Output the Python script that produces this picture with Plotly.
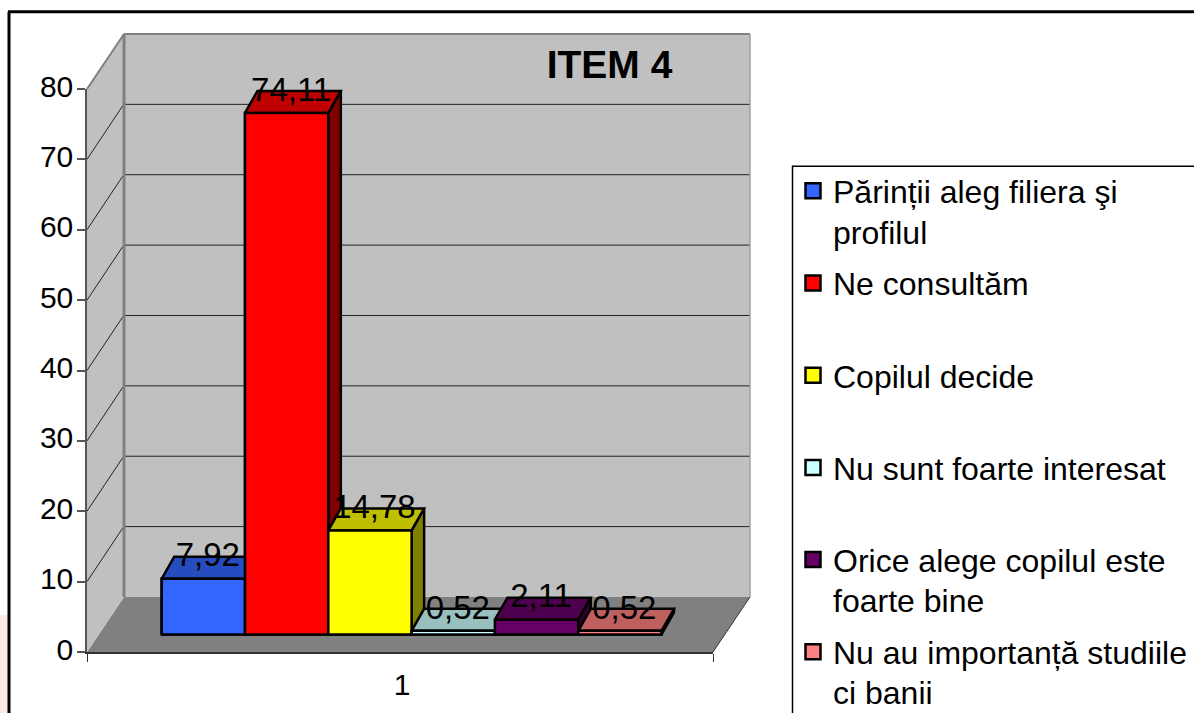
import plotly.graph_objects as go

# ---- data ----
categories = ["1"]
series_names = [
    "Părinții aleg filiera şi",
    "Ne consultăm",
    "Copilul decide",
    "Nu sunt foarte interesat",
    "Orice alege copilul este",
    "Nu au importanță studiile",
]
legend_second_lines = ["profilul", "", "", "", "foarte bine", "ci banii"]
series_values = [7.92, 74.11, 14.78, 0.52, 2.11, 0.52]
y_ticks = [0, 10, 20, 30, 40, 50, 60, 70, 80]

# ---- style ----
front_colors = ["#3366ff", "#ff0000", "#ffff00", "#ccffff", "#660066", "#ff8080"]
top_colors = ["#264dbf", "#bf0000", "#bfbf00", "#99bfbf", "#4d004d", "#bf6060"]
side_colors = ["#1a3380", "#800000", "#808000", "#668080", "#330033", "#804040"]
FONT = "Liberation Sans"
W, H = 1194, 713
L, R, T, B = 87, 713, 89.3, 652          # front plot rectangle in pixels
PXU_Y = (B - T) / 80
PXU_X = R - L                            # one category wide
DX, DY = 37, 55                          # wall depth
BAR_W = 83.3 / PXU_X
BAR_DX, BAR_DY = 12.5 / PXU_X, 22 / PXU_Y
BASE = 17.5 / PXU_Y
FIRST_LEFT = 0.5 + (161.7 - L) / PXU_X
EDGE = 2.5
LEGEND_STEP = 92


def px(x):
    return (x - L) / (R - L)


def py(y):
    return (B - y) / (B - T)


def poly(points, fill, line=None, width=0, layer="below"):
    path = "M" + "L".join(f"{px(a):.5f},{py(b):.5f}" for a, b in points) + "Z"
    return dict(type="path", xref="paper", yref="paper", path=path, fillcolor=fill,
                line=dict(color=line or fill, width=width), layer=layer)


def seg(x0, y0, x1, y1, color, width, layer="below"):
    return dict(type="line", xref="paper", yref="paper", x0=px(x0), y0=py(y0), x1=px(x1), y1=py(y1),
                line=dict(color=color, width=width), layer=layer)


shapes = [
    dict(type="rect", xref="paper", yref="paper", x0=px(0), x1=px(8), y0=py(713), y1=py(615),
         fillcolor="#fde9e9", line=dict(width=0), layer="below"),
    seg(9, 12, 9, 713, "#000000", 3),
    seg(8, 12, 1194, 12, "#000000", 3),
    seg(792.5, 166, 792.5, 713, "#000000", 1.5),
    seg(792, 166.5, 1194, 166.5, "#000000", 1.5),
    poly([(L, B), (R, B), (R + DX, B - DY), (L + DX, B - DY)], "#808080"),
    poly([(L, B), (L, T), (L + DX, T - DY), (L + DX, B - DY)], "#c0c0c0"),
    poly([(L + DX, B - DY), (L + DX, T - DY), (R + DX, T - DY), (R + DX, B - DY)], "#c0c0c0"),
]
for v in y_ticks[1:-1]:
    yy = B - v * PXU_Y
    shapes.append(seg(L, yy, L + DX - 1, yy - DY + 1, "#222222", 1))
    shapes.append(seg(L + DX, yy - DY, R + DX, yy - DY, "#222222", 1))
shapes += [
    seg(L, T, L + DX, T - DY, "#808080", 2),
    seg(L + DX, T - DY, R + DX, T - DY, "#808080", 2),
    seg(L + DX, T - DY, L + DX, B - DY, "#808080", 3),
    seg(R + DX, T - DY, R + DX, B - DY, "#a0a0a0", 1.5),
    seg(R, B, R + DX, B - DY, "#333333", 1),
]

fig = go.Figure()
lefts = [FIRST_LEFT + i * BAR_W for i in range(len(series_values))]

for name, val, left, col in zip(series_names, series_values, lefts, front_colors):
    fig.add_trace(go.Bar(
        x=[left + BAR_W / 2], y=[val], base=[BASE], width=[BAR_W], name=name, showlegend=False,
        marker=dict(color=col, line=dict(color="#000000", width=EDGE)), hoverinfo="skip",
    ))

# legend keys
for name, col in zip(series_names, front_colors):
    fig.add_trace(go.Scatter(
        x=[None], y=[None], mode="markers", name=name, legendgroup=name,
        marker=dict(symbol="square", size=15, color=col, line=dict(color="#000000", width=2.5)),
    ))


def face(xs, ys, color):
    fig.add_trace(go.Scatter(
        x=xs + xs[:1], y=ys + ys[:1], mode="lines", fill="toself", fillcolor=color,
        line=dict(color="#000000", width=EDGE), showlegend=False, hoverinfo="skip", cliponaxis=False,
    ))


for val, left, fc, tc, sc in zip(series_values, lefts, front_colors, top_colors, side_colors):
    x0, x1 = left, left + BAR_W
    y0, y1 = BASE, BASE + val
    face([x1, x1 + BAR_DX, x1 + BAR_DX, x1], [y0, y0 + BAR_DY, y1 + BAR_DY, y1], sc)
    face([x0, x1, x1 + BAR_DX, x0 + BAR_DX], [y1, y1, y1 + BAR_DY, y1 + BAR_DY], tc)
    face([x0, x1, x1, x0], [y0, y0, y1, y1], fc)

fig.add_trace(go.Scatter(
    x=[left + BAR_W / 2 + 4.5 / PXU_X for left in lefts],
    y=[BASE + val + 20.5 / PXU_Y for val in series_values],
    text=[f"{val:.2f}".replace(".", ",") for val in series_values],
    mode="text", textposition="middle center", textfont=dict(family=FONT, size=33, color="#000000"),
    showlegend=False, hoverinfo="skip", cliponaxis=False,
))

annotations = [
    dict(text=t, xref="paper", yref="paper", x=px(831), y=py(193 + i * LEGEND_STEP + 40), xanchor="left",
         yanchor="middle", showarrow=False, font=dict(family=FONT, size=32, color="#000000"))
    for i, t in enumerate(legend_second_lines) if t
]

fig.update_layout(
    width=W, height=H, autosize=False,
    margin=dict(l=L, r=W - R, t=T, b=H - B, pad=0, autoexpand=False),
    paper_bgcolor="#ffffff", plot_bgcolor="rgba(0,0,0,0)",
    barmode="overlay", shapes=shapes, annotations=annotations,
    font=dict(family=FONT, size=30, color="#000000"),
    title=dict(text="<b>ITEM 4</b>", x=609.5 / W, xref="container", xanchor="center",
               y=1 - 64 / H, yref="container", yanchor="middle",
               font=dict(family=FONT, size=39, color="#000000")),
    xaxis=dict(range=[0.5, 1.5], tickmode="array", tickvals=[1], ticktext=categories, ticks="",
               showgrid=False, zeroline=False, showline=True, linecolor="#333333", linewidth=1.5,
               ticklabelstandoff=5, ticklabelshift=2,
               minor=dict(tickmode="array", tickvals=[0.5, 1.5], ticks="outside", ticklen=8,
                          tickcolor="#333333", tickwidth=1, showgrid=False),
               tickfont=dict(family=FONT, size=30)),
    yaxis=dict(range=[0, 80], tickmode="array", tickvals=y_ticks, ticks="outside", ticklen=8,
               tickcolor="#555555", tickwidth=1.5, showgrid=False, zeroline=False, showline=True,
               linecolor="#555555", linewidth=1.5, ticklabelshift=-3, ticklabelstandoff=-2,
               tickfont=dict(family=FONT, size=30)),
    legend=dict(xref="container", yref="container", x=793 / W, y=1 - 163.5 / H, xanchor="left", yanchor="top",
                bgcolor="rgba(0,0,0,0)", borderwidth=0, tracegroupgap=47.6, itemclick=False,
                itemdoubleclick=False, maxheight=900, font=dict(family=FONT, size=32, color="#000000")),
)

fig.write_html("out.html", config=dict(displayModeBar=False),
               post_script="document.body.style.margin='0';document.documentElement.style.overflow='hidden';")
